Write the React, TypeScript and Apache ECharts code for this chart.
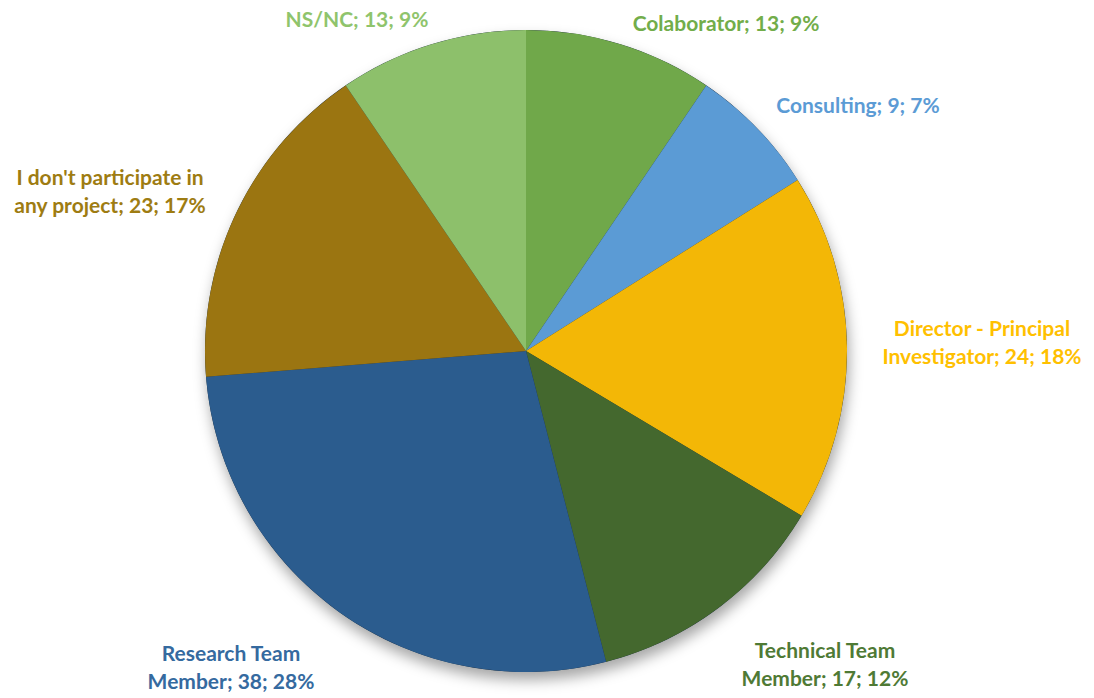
import React, { useEffect, useRef } from "react";
import * as echarts from "echarts";

const categories = [
  "Colaborator",
  "Consulting",
  "Director - Principal Investigator",
  "Technical Team Member",
  "Research Team Member",
  "I don't participate in any project",
  "NS/NC",
];
const counts = [13, 9, 24, 17, 38, 23, 13];
const percents = [9, 7, 18, 12, 28, 17, 9];

const sliceColors = ["#70a84a", "#5b9bd5", "#f3b706", "#44682e", "#2b5c8e", "#9b7511", "#8dc06b"];
const labelColors = ["#72ad4a", "#5b9bd5", "#ffc000", "#4f7a35", "#356a9f", "#9e7c12", "#8fc46c"];

// where each label's first line breaks
const labelBreaks: Record<string, string> = {
  "Director - Principal Investigator": "Director - Principal\nInvestigator",
  "Technical Team Member": "Technical Team\nMember",
  "Research Team Member": "Research Team\nMember",
  "I don't participate in any project": "I don't participate in\nany project",
};

// label centres (layout only)
const labelPos: [number, number][] = [
  [726, 22],
  [858, 104],
  [982, 341],
  [825, 663],
  [231, 666],
  [110, 190],
  [357, 18],
];

export default function App() {
  const ref = useRef<HTMLDivElement>(null);
  useEffect(() => {
    if (!ref.current) return;
    const chart = echarts.init(ref.current, null, { renderer: "svg" });
    const data = categories.map((name, i) => ({
      name,
      value: counts[i],
      itemStyle: { color: sliceColors[i] },
      label: { color: labelColors[i] },
    }));
    const center = [526, 351];
    const radius = 321;
    chart.setOption({
      animation: false,
      backgroundColor: "#ffffff",
      series: [
        {
          type: "pie",
          silent: true,
          center,
          radius,
          z: 1,
          label: { show: false },
          labelLine: { show: false },
          data: [
            {
              value: 1,
              itemStyle: {
                color: "#1a2a3a",
                shadowBlur: 14,
                shadowOffsetY: 8,
                shadowOffsetX: 2,
                shadowColor: "rgba(0,0,0,0.35)",
              },
            },
          ],
        },
        {
          type: "pie",
          startAngle: 90,
          clockwise: true,
          center,
          radius,
          z: 2,
          data,
          itemStyle: { borderWidth: 0 },
          label: {
            show: true,
            position: "outside",
            alignTo: "none",
            overflow: "none",
            width: 400,
            fontFamily: "Lato",
            fontWeight: "bold",
            fontSize: 21,
            lineHeight: 28,
            align: "center",
            formatter: (p: any) =>
              `${labelBreaks[p.name] ?? p.name}; ${counts[p.dataIndex]}; ${percents[p.dataIndex]}%`,
          },
          labelLine: { show: false },
          labelLayout: (params: any) => {
            const [x, y] = labelPos[params.dataIndex];
            return { x, y, align: "center", verticalAlign: "middle" };
          },
        },
      ],
    });
    return () => chart.dispose();
  }, []);
  return (
    <div
      ref={ref}
      style={{ position: "fixed", left: 0, top: 0, width: 1094, height: 698 }}
    />
  );
}
